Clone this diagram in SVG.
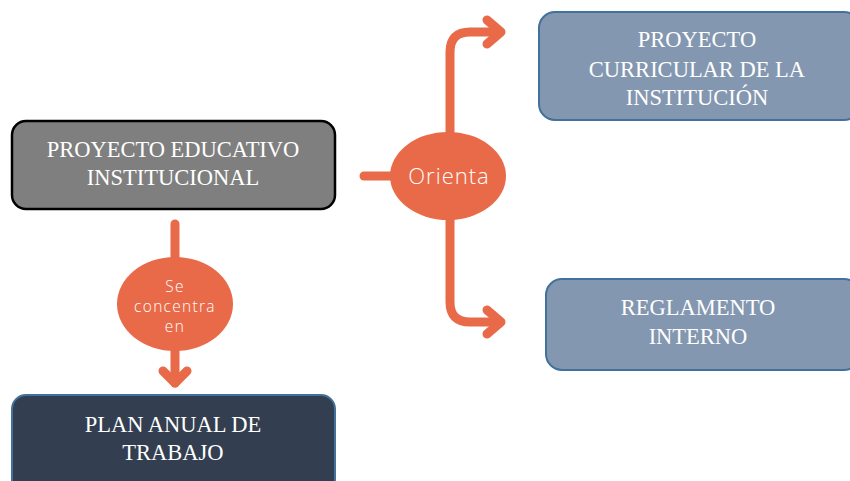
<svg xmlns="http://www.w3.org/2000/svg" width="850" height="481" viewBox="0 0 850 481">
<style>
.box text{font-family:"Liberation Serif",serif;font-size:22.5px;fill:#fff;text-anchor:middle}
.lbl{font-family:"Open Sans","Noto Sans",sans-serif;fill:#fff;text-anchor:middle}
.con{fill:none;stroke:#e96a48;stroke-width:9;stroke-linecap:round;stroke-linejoin:round}
</style>
<rect width="850" height="481" fill="#fff"/>
<g id="connectors">
<path class="con" d="M364 176 H392"/>
<path class="con" d="M450 134 V52 Q450 32 470 32 H500"/>
<path class="con" d="M487 20 L501 32 L487 44"/>
<path class="con" d="M450 218 V302 Q450 322 470 322 H500"/>
<path class="con" d="M487 310 L501 322 L487 334"/>
<path class="con" d="M175 224 V260"/>
<path class="con" d="M175 350 V383"/>
<path class="con" d="M163 371 L175 383 L187 371"/>
</g>
<g id="orienta">
<ellipse cx="448" cy="176" rx="58" ry="44" fill="#e96a48"/>
<text class="lbl" x="449" y="184" font-size="22" font-weight="300" letter-spacing="1">Orienta</text>
</g>
<g id="se-concentra">
<ellipse cx="175" cy="304" rx="58" ry="47" fill="#e96a48"/>
<text class="lbl" x="175" y="292" font-size="15.5" font-weight="300" letter-spacing="1.3">Se</text>
<text class="lbl" x="175" y="312" font-size="15.5" font-weight="300" letter-spacing="1.3">concentra</text>
<text class="lbl" x="175" y="332" font-size="15.5" font-weight="300" letter-spacing="1.3">en</text>
</g>
<g id="pei" class="box">
<rect x="12" y="121" width="323" height="88" rx="14" fill="#7f7f7f" stroke="#000" stroke-width="2.5"/>
<text x="173" y="157">PROYECTO EDUCATIVO</text>
<text x="173" y="185">INSTITUCIONAL</text>
</g>
<g id="curricular" class="box">
<rect x="539" y="12" width="321" height="108" rx="16" fill="#8497b0" stroke="#41719c" stroke-width="2"/>
<text x="697" y="47">PROYECTO</text>
<text x="697" y="77">CURRICULAR DE LA</text>
<text x="697" y="105">INSTITUCIÓN</text>
</g>
<g id="reglamento" class="box">
<rect x="546" y="279" width="314" height="91" rx="16" fill="#8497b0" stroke="#41719c" stroke-width="2"/>
<text x="698" y="315">REGLAMENTO</text>
<text x="698" y="344">INTERNO</text>
</g>
<g id="plan" class="box">
<rect x="12" y="395" width="323" height="100" rx="14" fill="#333f50" stroke="#41719c" stroke-width="2"/>
<text x="173" y="432">PLAN ANUAL DE</text>
<text x="173" y="460">TRABAJO</text>
</g>
</svg>
